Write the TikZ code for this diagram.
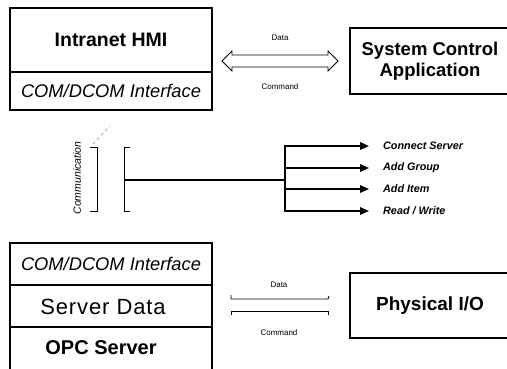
\documentclass[tikz,border=0pt]{standalone}
\usepackage{fontspec}
\setmainfont{Liberation Sans}
\usetikzlibrary{arrows.meta}
\tikzset{
  x=1pt, y=-1pt,
  box/.style={draw, line width=1.2pt, inner sep=0pt, minimum width=202pt, align=center},
  title/.style={font=\fontsize{19.5}{22}\selectfont\bfseries},
  iface/.style={font=\fontsize{18.3}{21}\selectfont\itshape},
  plain/.style={font=\fontsize{22}{24}\selectfont\addfontfeature{LetterSpace=4}, inner sep=0pt},
  small/.style={font=\fontsize{8}{9}\selectfont, inner sep=0pt},
  oplabel/.style={font=\fontsize{10.8}{12}\selectfont\bfseries\itshape, anchor=west, inner sep=0pt},
  branch/.style={line width=1.8pt, -{Triangle[length=9pt,width=7.5pt]}, shorten >=14pt},
  thin/.style={line width=0.8pt},
}
\begin{document}
\begin{tikzpicture}
\useasboundingbox (0,0) rectangle (507,368);

% client side: Intranet HMI with its COM/DCOM interface
\node[box, title, minimum height=64pt] (hmi) at (111,40) {Intranet HMI};
\node[box, iface, minimum height=38pt] (hmicom) at (111,91) {COM/DCOM Interface};

% system control application
\node[box, minimum width=160pt, minimum height=66pt, font=\fontsize{18.5}{21}\selectfont\bfseries]
  (sca) at (430,61) {System Control\\Application};

% hollow double arrow between HMI and application
\coordinate (dl) at (222,61);
\coordinate (dr) at (338,61);
\draw[thin] (dl) -- ++(10,-10) -- ++(0,4) -- ++(96,0) -- ++(0,-4) -- (dr)
  -- ++(-10,10) -- ++(0,-4) -- ++(-96,0) -- ++(0,4) -- cycle;
\node[small] (tdata) at (280,38) {Data};
\node[small] (tcmd) at (280,87) {Command};

% communication brackets
\coordinate (lbt) at (90,147);
\coordinate (lbb) at (90,211);
\draw[thin] (lbt) -- ++(7,0) -- ++(0,64) -- (lbb);
\coordinate (rbt) at (130,147);
\coordinate (rbb) at (130,211);
\draw[thin] (rbt) -- ++(-6,0) -- ++(0,64) -- (rbb);
\coordinate (lead) at (110,126);
\draw[line width=0.5pt, dashed, gray] (93,144) -- (lead);
\node[rotate=90, font=\fontsize{10.5}{12}\selectfont\itshape, inner sep=0pt] (comm) at (77,178) {Communication};

% trunk and the four operations
\coordinate (jl) at (124,180);
\coordinate (jr) at (285,180);
\draw[line width=2.2pt] (jl) -- (jr);
\node[oplabel] (op1) at (383,146) {Connect Server};
\node[oplabel] (op2) at (383,168) {Add Group};
\node[oplabel] (op3) at (383,189) {Add Item};
\node[oplabel] (op4) at (383,211) {Read / Write};
\draw[line width=1.8pt] (285,145) -- (285,212);
\foreach \n in {op1,op2,op3,op4}
  \draw[branch] (jr |- \n.west) -- (\n.west);

% server side stack
\node[box, iface, minimum height=42pt] (srvcom) at (111,264) {COM/DCOM Interface};
\node[box, minimum height=42pt] (srvdata) at (111,306) {};
\node[plain] (srvdatalbl) at (103,307) {Server Data};
\node[box, minimum height=43pt] (opc) at (111,348.5) {};
\node[font=\fontsize{20}{22}\selectfont\bfseries, inner sep=0pt] (opclbl) at (101,348) {OPC Server};

% physical I/O
\node[box, minimum width=160pt, minimum height=65pt, font=\fontsize{19}{22}\selectfont\bfseries] (pio) at (430,305.5) {Physical I/O};

% data / command lines between server and I/O
\coordinate (ul) at (231,299);
\coordinate (ur) at (328,299);
\draw[thin] (231,295) -- (ul) -- (ur) -- (329,296);
\coordinate (ll) at (231,311);
\coordinate (lr) at (328,311);
\draw[thin] (231,315) -- (ll) -- (lr) -- (328,315);
\node[small] (bdata) at (279,285) {Data};
\node[small] (bcmd) at (279,333) {Command};
\end{tikzpicture}
\end{document}
